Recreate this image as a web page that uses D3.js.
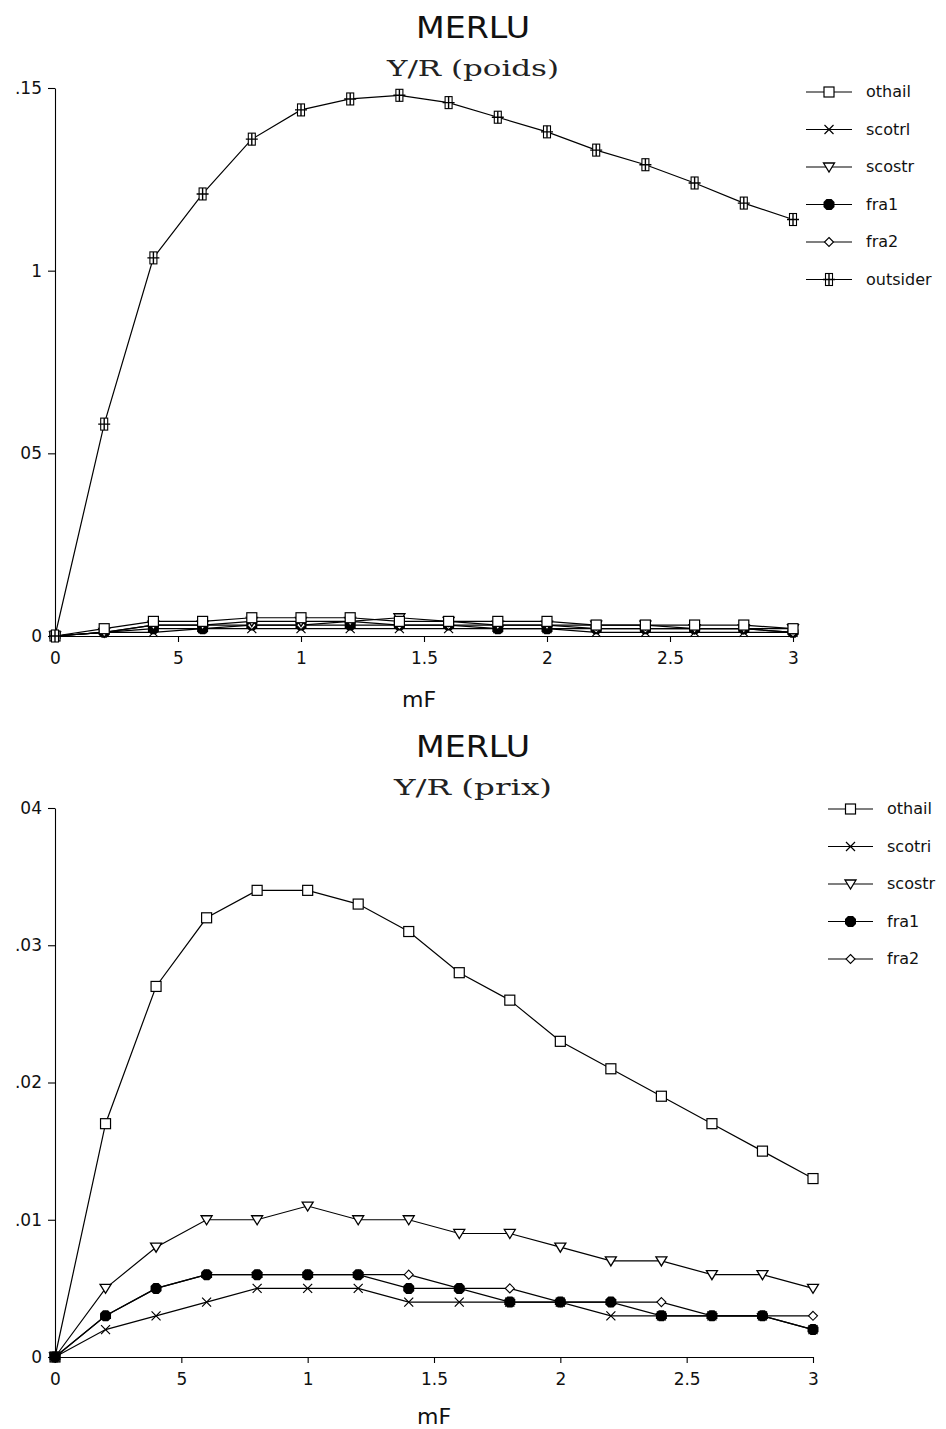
<!DOCTYPE html>
<html><head><meta charset="utf-8">
<script src="https://cdn.jsdelivr.net/npm/d3@7"></script>
<style>body{margin:0;background:#fff}svg{display:block}</style>
</head><body><div id="c"></div>
<script>
// ---------- DATA ----------
const mF = [0,0.2,0.4,0.6,0.8,1.0,1.2,1.4,1.6,1.8,2.0,2.2,2.4,2.6,2.8,3.0];
const xTickValues = [0,0.5,1,1.5,2,2.5,3];
const xTickLabels = ["0","5","1","1.5","2","2.5","3"];

// Panel 1 : Y/R (poids)
const poidsYTicks = [0,0.05,0.1,0.15];
const poidsYLabels = ["0","05","1",".15"];
const poidsNames = ["othail","scotrl","scostr","fra1","fra2","outsider"];
const poids_othail   = [0,0.002,0.004,0.004,0.005,0.005,0.005,0.004,0.004,0.004,0.004,0.003,0.003,0.003,0.003,0.002];
const poids_scotri   = [0,0.001,0.001,0.002,0.002,0.002,0.002,0.002,0.002,0.002,0.002,0.001,0.001,0.001,0.001,0.001];
const poids_scostr   = [0,0.001,0.003,0.003,0.004,0.004,0.004,0.005,0.004,0.003,0.003,0.003,0.003,0.002,0.002,0.002];
const poids_fra1     = [0,0.001,0.002,0.002,0.003,0.003,0.003,0.003,0.003,0.002,0.002,0.002,0.002,0.002,0.002,0.001];
const poids_fra2     = [0,0.001,0.003,0.003,0.003,0.003,0.004,0.003,0.003,0.003,0.003,0.002,0.002,0.002,0.002,0.001];
const poids_outsider = [0,0.058,0.1035,0.121,0.136,0.144,0.147,0.148,0.146,0.142,0.138,0.133,0.129,0.124,0.1185,0.114];

// Panel 2 : Y/R (prix)
const prixYTicks = [0,0.01,0.02,0.03,0.04];
const prixYLabels = ["0",".01",".02",".03","04"];
const prixNames = ["othail","scotri","scostr","fra1","fra2"];
const prix_othail = [0,0.017,0.027,0.032,0.034,0.034,0.033,0.031,0.028,0.026,0.023,0.021,0.019,0.017,0.015,0.013];
const prix_scotri = [0,0.002,0.003,0.004,0.005,0.005,0.005,0.004,0.004,0.004,0.004,0.003,0.003,0.003,0.003,0.002];
const prix_scostr = [0,0.005,0.008,0.010,0.010,0.011,0.010,0.010,0.009,0.009,0.008,0.007,0.007,0.006,0.006,0.005];
const prix_fra1   = [0,0.003,0.005,0.006,0.006,0.006,0.006,0.005,0.005,0.004,0.004,0.004,0.003,0.003,0.003,0.002];
const prix_fra2   = [0,0.003,0.005,0.006,0.006,0.006,0.006,0.006,0.005,0.005,0.004,0.004,0.004,0.003,0.003,0.003];

// ---------- DRAW ----------
const W = 946, H = 1429;
const svg = d3.select("#c").append("svg").attr("width", W).attr("height", H);
const SANS = "'DejaVu Sans', 'Liberation Sans', sans-serif";
const SERIF = "'DejaVu Serif', 'Liberation Serif', serif";

function marker(g, type, x, y) {
  const m = g.append("g").attr("transform", `translate(${x},${y})`);
  if (type === "othail") {
    m.append("rect").attr("x", -5).attr("y", -5).attr("width", 10).attr("height", 10)
      .attr("fill", "#fff").attr("stroke", "#000").attr("stroke-width", 1.2);
  } else if (type === "scotri") {
    m.append("path").attr("d", "M-4.5,-4.5L4.5,4.5M-4.5,4.5L4.5,-4.5")
      .attr("stroke", "#000").attr("stroke-width", 1.2).attr("fill", "none");
  } else if (type === "scostr") {
    m.append("path").attr("d", "M-5.5,-4L5.5,-4L0,5Z")
      .attr("fill", "#fff").attr("stroke", "#000").attr("stroke-width", 1.3);
  } else if (type === "fra1") {
    m.append("path").attr("d", "M-2.5,-5.5L2.5,-5.5L5.5,-2.5L5.5,2.5L2.5,5.5L-2.5,5.5L-5.5,2.5L-5.5,-2.5Z")
      .attr("fill", "#000");
  } else if (type === "fra2") {
    m.append("path").attr("d", "M0,-4.5L4.5,0L0,4.5L-4.5,0Z")
      .attr("fill", "#fff").attr("stroke", "#000").attr("stroke-width", 1.1);
  } else if (type === "outsider") {
    m.append("rect").attr("x", -3.5).attr("y", -6).attr("width", 7).attr("height", 12)
      .attr("fill", "#fff").attr("stroke", "#000").attr("stroke-width", 1.1);
    m.append("path").attr("d", "M-6,0L6,0M0,-6L0,6")
      .attr("stroke", "#000").attr("stroke-width", 1.4);
  }
}

function panel(cfg) {
  const x = d3.scaleLinear().domain([0, 3]).range([cfg.x0, cfg.x1]);
  const y = d3.scaleLinear().domain([0, cfg.ymax]).range([cfg.y0, cfg.y1]);
  const g = svg.append("g");

  g.append("text").attr("x", cfg.titleX).attr("y", cfg.titleY).attr("text-anchor", "middle")
    .attr("font-family", SANS).attr("font-size", 31).attr("fill", "#111")
    .attr("textLength", 114).attr("lengthAdjust", "spacingAndGlyphs").text("MERLU");
  g.append("text").attr("x", cfg.titleX).attr("y", cfg.subY).attr("text-anchor", "middle")
    .attr("font-family", SERIF).attr("font-size", 23).attr("fill", "#222")
    .attr("textLength", cfg.subLen).attr("lengthAdjust", "spacingAndGlyphs").text(cfg.sub);

  const ax = g.append("g").attr("transform", `translate(0,${cfg.y0})`)
    .call(d3.axisBottom(x).tickValues(xTickValues)
      .tickFormat((d, i) => xTickLabels[i]).tickSizeInner(6).tickSizeOuter(0).tickPadding(10));
  const ay = g.append("g").attr("transform", `translate(${cfg.x0},0)`)
    .call(d3.axisLeft(y).tickValues(cfg.yTicks)
      .tickFormat((d, i) => cfg.yLabels[i]).tickSizeInner(7).tickSizeOuter(0).tickPadding(6));
  [ax, ay].forEach(a => {
    a.selectAll("path,line").attr("stroke", "#000").attr("stroke-width", 1.1);
    a.selectAll("text").attr("font-family", SANS).attr("font-size", 17).attr("fill", "#111");
  });
  g.append("text").attr("x", cfg.mfX).attr("y", cfg.mfY).attr("text-anchor", "middle")
    .attr("font-family", SANS).attr("font-size", 22).attr("fill", "#111").text("mF");

  const line = d3.line().x((d, i) => x(mF[i])).y(d => y(d));
  cfg.series.forEach(s => {
    g.append("path").datum(s.values).attr("d", line).attr("fill", "none")
      .attr("stroke", "#000").attr("stroke-width", 1.2);
  });
  cfg.series.forEach(s => {
    s.values.forEach((v, i) => marker(g, s.type, x(mF[i]), y(v)));
  });

  cfg.legendNames.forEach((name, i) => {
    const ly = cfg.legY + i * cfg.legStep;
    g.append("line").attr("x1", cfg.legX0).attr("x2", cfg.legX1).attr("y1", ly).attr("y2", ly)
      .attr("stroke", "#000").attr("stroke-width", 1.2);
    marker(g, cfg.series.find(s => s.label === name).type, (cfg.legX0 + cfg.legX1) / 2, ly);
    g.append("text").attr("x", cfg.legX1 + 14).attr("y", ly + 5)
      .attr("font-family", SANS).attr("font-size", 16).attr("fill", "#111").text(name);
  });
}

panel({
  x0: 55, x1: 793, y0: 636, y1: 88, ymax: 0.15,
  yTicks: poidsYTicks, yLabels: poidsYLabels,
  titleX: 473, titleY: 38, subY: 76, sub: "Y/R (poids)", subLen: 172,
  mfX: 419, mfY: 707,
  series: [
    {label: "scotrl", type: "scotri", values: poids_scotri},
    {label: "fra1", type: "fra1", values: poids_fra1},
    {label: "fra2", type: "fra2", values: poids_fra2},
    {label: "scostr", type: "scostr", values: poids_scostr},
    {label: "othail", type: "othail", values: poids_othail},
    {label: "outsider", type: "outsider", values: poids_outsider}
  ],
  legendNames: poidsNames, legX0: 806, legX1: 852, legY: 92, legStep: 37.5
});

panel({
  x0: 55, x1: 813, y0: 1357, y1: 808, ymax: 0.04,
  yTicks: prixYTicks, yLabels: prixYLabels,
  titleX: 473, titleY: 757, subY: 795, sub: "Y/R (prix)", subLen: 158,
  mfX: 434, mfY: 1424,
  series: [
    {label: "othail", type: "othail", values: prix_othail},
    {label: "scotri", type: "scotri", values: prix_scotri},
    {label: "scostr", type: "scostr", values: prix_scostr},
    {label: "fra2", type: "fra2", values: prix_fra2},
    {label: "fra1", type: "fra1", values: prix_fra1}
  ],
  legendNames: prixNames, legX0: 828, legX1: 873, legY: 809, legStep: 37.5
});
</script></body></html>
